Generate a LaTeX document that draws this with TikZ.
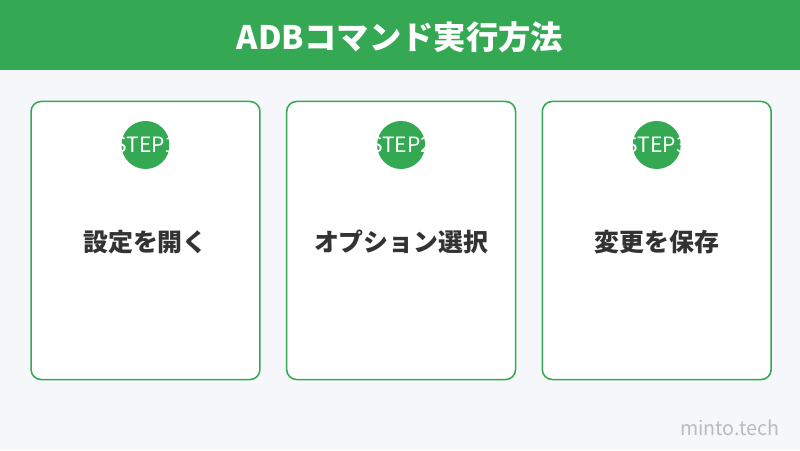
\documentclass[tikz,border=0pt]{standalone}
\usepackage{fontspec}
\setmainfont{Noto Sans CJK JP}
\usetikzlibrary{positioning}
\definecolor{stepgreen}{HTML}{34A853}
\definecolor{pagebg}{HTML}{F5F7FA}
\definecolor{labelgray}{HTML}{333333}
\definecolor{markgray}{HTML}{BBBBBB}

\begin{document}
\begin{tikzpicture}[x=0.025cm, y=-0.025cm,
  card node/.style={draw=stepgreen, line width=1.1pt, fill=white, rounded corners=0.25cm, minimum width=5.72cm, minimum height=6.95cm, inner sep=0pt},
  dot node/.style={circle, fill=stepgreen, minimum size=1.2cm, inner sep=0pt},
  step node/.style={text=white, font=\fontsize{15}{18}\selectfont, inner sep=0pt},
  label node/.style={text=labelgray, font=\fontsize{17.7}{21}\selectfont\bfseries},
  node distance=0.63cm]
  \fill[pagebg] (0,0) rectangle (800,450);
  \fill[stepgreen] (0,0) rectangle (800,70);
  \node[text=white, font=\fontsize{23}{27}\selectfont\bfseries] (title) at (400,37) {ADBコマンド実行方法};

  \node[card node] (card1) at (145.5,240.5) {};
  \node[card node] (card2) [right=of card1] {};
  \node[card node] (card3) [right=of card2] {};

  \node[dot node] (dot1) [below=0.5cm of card1.north] {};
  \node[step node] (step1) at (dot1) {STEP1};
  \node[label node] (label1) at ([yshift=-2.425cm]dot1) {設定を開く};

  \node[dot node] (dot2) [below=0.5cm of card2.north] {};
  \node[step node] (step2) at (dot2) {STEP2};
  \node[label node] (label2) at ([yshift=-2.425cm]dot2) {オプション選択};

  \node[dot node] (dot3) [below=0.5cm of card3.north] {};
  \node[step node] (step3) at (dot3) {STEP3};
  \node[label node] (label3) at ([yshift=-2.425cm]dot3) {変更を保存};

  \node[text=markgray, font=\fontsize{14}{17}\selectfont, anchor=east] (mark) at (784,428) {minto.tech};
\end{tikzpicture}
\end{document}
